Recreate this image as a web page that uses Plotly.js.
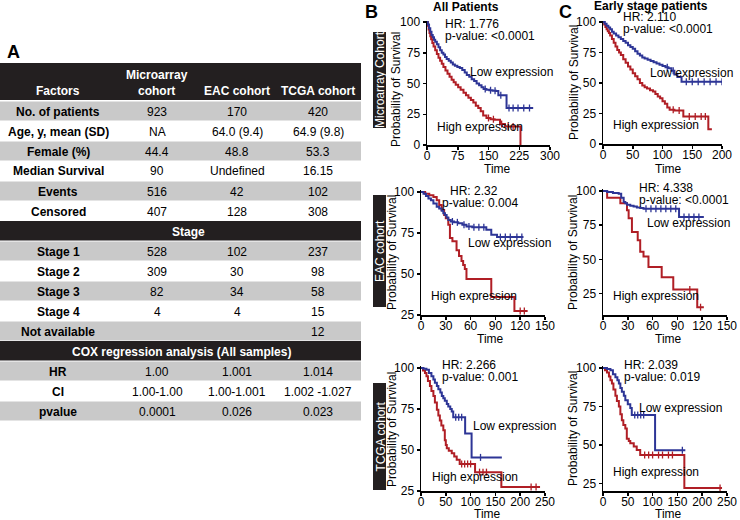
<!DOCTYPE html>
<html><head><meta charset="utf-8">
<script src="https://cdn.plot.ly/plotly-3.0.1.min.js"></script>
<style>html,body{margin:0;padding:0;background:#fff}#chart{width:740px;height:520px}</style>
</head><body><div id="chart"></div>
<script>
// ---------------- Table data ----------------
const tableHeaders = ["Factors", "Microarray<br>cohort", "EAC cohort", "TCGA cohort"];
const sectionTitles = ["Stage", "COX regression analysis (All samples)"];
const rowLabels = ["No. of patients","Age, y, mean (SD)","Female (%)","Median Survival","Events","Censored",
  "Stage","Stage 1","Stage 2","Stage 3","Stage 4","Not available",
  "COX regression analysis (All samples)","HR","CI","pvalue"];
const microarrayValues = ["923","NA","44.4","90","516","407","","528","309","82","4","","","1.00","1.00-1.00","0.0001"];
const eacValues = ["170","64.0 (9.4)","48.8","Undefined","42","128","","102","30","34","4","","","1.001","1.00-1.001","0.026"];
const tcgaValues = ["420","64.9 (9.8)","53.3","16.15","102","308","","237","98","58","15","12","","1.014","1.002 -1.027","0.023"];

// ---------------- Kaplan-Meier data ----------------
// Microarray cohort, all patients
const maAllLowT  = [0,2,5,8,11,14,17,20,24,28,32,36,40,44,48,53,58,63,68,74,80,86,92,97,103,109,115,121,127,133,138,145,152,160,168,174,186,194,259];
const maAllLowS  = [100,98,95,92,89.5,87.5,85.5,84,82,79.5,77,75,73.5,71.5,70,68.5,67,65.5,64.5,63.5,62.5,61,59,57,55.5,53.5,52,50,48.5,47,45.5,45,44.5,44.2,44,40.5,40.5,30,30];
const maAllHighT = [0,2,4,6,8,10,13,16,20,24,28,32,36,40,45,50,55,60,65,70,76,82,89,95,101,107,113,119,125,131,137,145,155,165,172,178,190,228,228];
const maAllHighS = [100,97,94,91,88.5,86,83,80,77,74,71,68.5,66,63.5,60.5,58,55.5,53,51,49,47,45,42.5,40.5,38.5,36.5,34.5,32,30,27.5,24,22,21,20.5,20.5,17,15,15,0];
const maAllLowCens  = [142,155,166,180,200,210,222,236,250];
const maAllHighCens = [150,162,182,198,210];
// Microarray cohort, early stage
const maEarlyLowT  = [0,3,6,9,12,15,18,22,26,30,34,38,42,46,50,54,58,62,66,70,75,80,85,90,95,100,105,110,115,120,125,132,207];
const maEarlyLowS  = [100,98.5,97,95.5,94,92,90.5,89,87.5,86,84.5,83,81,79.5,78,76,74,72.5,71,70,69,68,67,66,65,64,63,62,60,57,55,51,51];
const maEarlyHighT = [0,2,4,6,8,10,12,15,18,21,24,27,30,34,38,42,46,50,54,58,62,66,70,74,79,84,88,92,96,100,104,108,112,120,135,177,183];
const maEarlyHighS = [100,98,96,94,92.5,91,89,86,83,80,77,75,73,69.5,66.5,63.5,61,58,55.5,53,50,48,46.5,45.5,44,43,41,39,37.5,35,33,30,28,27.5,22.5,12,12];
const maEarlyLowCens  = [108,118,140,150,160,170,180,190,200];
const maEarlyHighCens = [118,128,145,155,165,172];
// EAC cohort, all patients
const eacAllLowT  = [0,3,6,9,12,15,19,22,25,27,29,31,33,36,40,45,50,55,62,70,79,85,92,124];
const eacAllLowS  = [100,99,97.5,96,95,93,91,90,88.5,87,86,84.5,83,82,81.5,81,80,79,78.5,78.5,77,74,72.5,72.5];
const eacAllHighT = [0,5,10,15,19,22,25,28,30,33,35,38,43,46,49,51,53,55,85,113,129];
const eacAllHighS = [100,99,98,97,95,92,89,86,84,80,72,70,64.5,61,58,55.5,53,47,36,27.5,27.5];
const eacAllLowCens  = [38,44,52,58,64,70,76,96,102,108,116,122];
const eacAllHighCens = [120,125];
// EAC cohort, early stage
const eacEarlyLowT  = [0,5,12,19,22,25,27,29,33,37,41,45,49,92,122];
const eacEarlyLowS  = [100,99.3,98.6,98,95,92,91,90,89.3,88.6,88,87.5,87,81,81];
const eacEarlyHighT = [0,5,21,29,31,35,42,45,49,55,71,85,114,122];
const eacEarlyHighS = [100,95,91,86,80,70,64,55.5,52,44.5,37,28,15,15];
const eacEarlyLowCens  = [52,58,64,70,76,82,88,98,104,110,116];
const eacEarlyHighCens = [105,118];
// TCGA cohort, all patients
const tcgaAllLowT  = [0,5,11,16,21,25,28,32,35,39,42,45,48,52,55,59,62,65,89,102,163];
const tcgaAllLowS  = [100,99.5,99,97,95,93,91,89,87,85,83,81.5,80,78,76.5,75,73.5,70,60,45.5,45.5];
const tcgaAllHighT = [0,4,8,11,14,18,21,25,28,32,35,38,41,45,48,50,52,56,62,67,72,78,109,162,240];
const tcgaAllHighS = [100,98.5,97,95,92,89,86,83,79,74.5,71,68,65,62,56,53,51,49.5,48,46,44,41.5,36.5,27.5,27.5];
const tcgaAllLowCens  = [70,76,82,120];
const tcgaAllHighCens = [82,88,94,100,118,125,132,222,232];
// TCGA cohort, early stage
const tcgaEarlyLowT  = [0,8,15,20,25,29,32,35,38,42,45,50,55,58,105,166];
const tcgaEarlyLowS  = [100,99.3,98.5,96,94,92,90,87,84.5,82,79,76.5,74,69.5,46.5,46.5];
const tcgaEarlyHighT = [0,4,8,12,15,18,21,25,28,32,35,38,41,45,48,52,55,62,68,75,164,240];
const tcgaEarlyHighS = [100,98.5,97,94.5,92,90,86,82,78.5,75,70,66,63,60.7,54,52.5,51,49,46.6,43.4,22,22];
const tcgaEarlyLowCens  = [64,70,76,82,160];
const tcgaEarlyHighCens = [84,92,100,112,120,132,140,236];

const statsText = [["HR: 1.776","p-value: <0.0001"],["HR: 2.110","p-value: <0.0001"],
                   ["HR: 2.32","p-value: 0.004"],["HR: 4.338","p-value: <0.0001"],
                   ["HR: 2.266","p-value: 0.001"],["HR: 2.039","p-value: 0.019"]];
const columnTitles = ["All Patients","Early stage patients"];
const cohortNames = ["Microarray Cohort","EAC cohort","TCGA cohort"];
const xTickSets = [[0,75,150,225,300],[0,50,100,150,200],[0,30,60,90,120,150],[0,30,60,90,120,150],[0,50,100,150,200,250],[0,50,100,150,200,250]];
const yTickSets = [[0,25,50,75,100],[0,25,50,75,100],[25,50,75,100],[25,50,75,100],[25,50,75,100],[25,50,75,100]];

// ---------------- Layout helpers ----------------
const W = 740, H = 520;
const px = x => x / W, py = y => 1 - y / H;
const FONT = "Liberation Sans, Arial, Helvetica, sans-serif";
const BLACK = "#231f20", GRAY = "#c9c9c9";
const BLUE = "#2d3596", RED = "#b01e25";

const series = [
  [maAllLowT, maAllLowS, maAllHighT, maAllHighS, maAllLowCens, maAllHighCens],
  [maEarlyLowT, maEarlyLowS, maEarlyHighT, maEarlyHighS, maEarlyLowCens, maEarlyHighCens],
  [eacAllLowT, eacAllLowS, eacAllHighT, eacAllHighS, eacAllLowCens, eacAllHighCens],
  [eacEarlyLowT, eacEarlyLowS, eacEarlyHighT, eacEarlyHighS, eacEarlyLowCens, eacEarlyHighCens],
  [tcgaAllLowT, tcgaAllLowS, tcgaAllHighT, tcgaAllHighS, tcgaAllLowCens, tcgaAllHighCens],
  [tcgaEarlyLowT, tcgaEarlyLowS, tcgaEarlyHighT, tcgaEarlyHighS, tcgaEarlyLowCens, tcgaEarlyHighCens]
];

// pixel geometry of each plot: [xLeft, xRight, yTop(value 100), yBottom(axis)]
const geom = [
  {box:[427,550,22,145], xmax:300, ymin:0,
   stat:[443,24], low:[468,72], high:[435,127], time:[497,169], prob:[396,90]},
  {box:[603,722,22,144], xmax:200, ymin:0,
   stat:[621,16.5], low:[648,73], high:[611,125], time:[668,169], prob:[574,83]},
  {box:[421,545,192,315], xmax:150, ymin:25,
   stat:[448,191,440], low:[466,243], high:[429,296], time:[490,339], prob:[392,253]},
  {box:[603,727,191,315], xmax:150, ymin:9.3,
   stat:[637,188], low:[645,223], high:[611,296], time:[668,339], prob:[573,253]},
  {box:[421,545,368,491], xmax:250, ymin:25,
   stat:[440,365], low:[471,426], high:[430,477], time:[487,514], prob:[392,430]},
  {box:[603,727,368,491], xmax:250, ymin:20,
   stat:[622,365], low:[637,408], high:[611,472], time:[668,514], prob:[573,429]}
];

function stepAt(T, S, t) {
  let v = S[0];
  for (let i = 0; i < T.length; i++) { if (T[i] <= t) v = S[i]; }
  return v;
}

const traces = [];
const layout = {
  width: W, height: H, margin: {l:0, r:0, t:0, b:0},
  paper_bgcolor: "#fff", plot_bgcolor: "rgba(0,0,0,0)",
  showlegend: false, font: {family: FONT, size: 12, color: "#000"},
  shapes: [], annotations: []
};
const ann = (text, x, y, o = {}) => layout.annotations.push(Object.assign({
  text, x: px(x), y: py(y), xref: "paper", yref: "paper", showarrow: false,
  xanchor: "center", yanchor: "middle", font: {family: FONT, size: 12, color: "#000"}
}, o));
const rect = (x0, y0, x1, y1, color) => layout.shapes.push({
  type: "rect", xref: "paper", yref: "paper", x0: px(x0), x1: px(x1), y0: py(y1), y1: py(y0),
  fillcolor: color, line: {width: 0}, layer: "below"
});

// ---------------- Table (panel A) ----------------
const colX = [58, 157, 237, 318];
const TABLE_R = 361;
ann("<b>A</b>", 13, 52, {font:{family:FONT, size:18, color:"#000"}});
rect(0, 63, TABLE_R, 100, BLACK);
ann("<b>" + tableHeaders[0] + "</b>", colX[0], 91, {font:{family:FONT,size:12,color:"#fff"}});
ann("<b>" + tableHeaders[1] + "</b>", colX[1], 83, {font:{family:FONT,size:12,color:"#fff"}});
ann("<b>" + tableHeaders[2] + "</b>", colX[2], 91, {font:{family:FONT,size:12,color:"#fff"}});
ann("<b>" + tableHeaders[3] + "</b>", colX[3], 91, {font:{family:FONT,size:12,color:"#fff"}});
let shade = true;
rowLabels.forEach((lab, i) => {
  const top = 101 + 20 * i, mid = top + 10.5;
  if (sectionTitles.includes(lab)) {
    rect(0, top, TABLE_R, top + 19.5, BLACK);
    ann("<b>" + lab + "</b>", i < 8 ? 188 : 181, mid, {font:{family:FONT,size:12,color:"#fff"}});
    shade = true;
    return;
  }
  if (shade) rect(0, top + 0.5, TABLE_R, top + 19.5, GRAY);
  shade = !shade;
  ann("<b>" + lab + "</b>", colX[0], mid);
  [microarrayValues, eacValues, tcgaValues].forEach((arr, c) => {
    if (arr[i]) ann(arr[i], colX[c + 1], mid);
  });
});

// ---------------- KM panels ----------------
ann("<b>B</b>", 371, 12, {font:{family:FONT, size:18, color:"#000"}});
ann("<b>C</b>", 565, 12, {font:{family:FONT, size:18, color:"#000"}});
ann("<b>" + columnTitles[0] + "</b>", 466, 7);
ann("<b>" + columnTitles[1] + "</b>", 651, 6.5);

// cohort labels (black boxes)
const cohortBoxes = [[373,386,32,128],[373,386,195,307],[373,386,383,490]];
cohortNames.forEach((nm, i) => {
  const b = cohortBoxes[i];
  rect(b[0], b[2], b[1], b[3], BLACK);
  ann(nm, (b[0] + b[1]) / 2 + 0.5, (b[2] + b[3]) / 2, {textangle: -90, font:{family:FONT,size:12,color:"#fff"}});
});

series.forEach((s, k) => {
  const g = geom[k], n = k + 1;
  const [xl, xr, yt, yb] = g.box;
  const ppu = (yb - yt) / (100 - g.ymin);
  const sfx = n === 1 ? "" : String(n);
  const axisCommon = {
    showline: true, linewidth: 1.5, linecolor: "#000", ticks: "outside", ticklen: 3,
    tickwidth: 1.5, tickcolor: "#000", showgrid: false, zeroline: false, fixedrange: true,
    tickfont: {family: FONT, size: 12, color: "#000"}
  };
  layout["xaxis" + sfx] = Object.assign({}, axisCommon, {
    domain: [px(xl), px(xr)], range: [0, g.xmax], tickmode: "array", tickvals: xTickSets[k],
    anchor: "y" + sfx, ticklabelstandoff: -4
  });
  layout["yaxis" + sfx] = Object.assign({}, axisCommon, {
    domain: [py(yb), py(yt - 1.2 * ppu)], range: [g.ymin, 101.2], tickmode: "array", tickvals: yTickSets[k],
    anchor: "x" + sfx
  });
  const xref = "x" + sfx, yref = "y" + sfx;
  const [lt, ls, ht, hs, lc, hc] = s;
  traces.push({x: ht, y: hs, type: "scatter", mode: "lines", line: {shape: "hv", color: RED, width: 2}, xaxis: xref, yaxis: yref, hoverinfo: "skip"});
  traces.push({x: lt, y: ls, type: "scatter", mode: "lines", line: {shape: "hv", color: BLUE, width: 2}, xaxis: xref, yaxis: yref, hoverinfo: "skip"});
  traces.push({x: hc, y: hc.map(t => stepAt(ht, hs, t)), type: "scatter", mode: "markers",
    marker: {symbol: "line-ns-open", size: 5, color: RED, line: {width: 1.3, color: RED}}, xaxis: xref, yaxis: yref, hoverinfo: "skip"});
  traces.push({x: lc, y: lc.map(t => stepAt(lt, ls, t)), type: "scatter", mode: "markers",
    marker: {symbol: "line-ns-open", size: 5, color: BLUE, line: {width: 1.3, color: BLUE}}, xaxis: xref, yaxis: yref, hoverinfo: "skip"});

  ann(statsText[k][0], g.stat[0], g.stat[1], {xanchor: "left"});
  ann(statsText[k][1], g.stat[2] || g.stat[0], g.stat[1] + 12, {xanchor: "left"});
  ann("Low expression", g.low[0], g.low[1], {xanchor: "left"});
  ann("High expression", g.high[0], g.high[1], {xanchor: "left"});
  ann("Time", g.time[0], g.time[1]);
  ann("Probability of Survival", g.prob[0], g.prob[1], {textangle: -90});
});

Plotly.newPlot("chart", traces, layout, {staticPlot: true, displayModeBar: false});
</script></body></html>
